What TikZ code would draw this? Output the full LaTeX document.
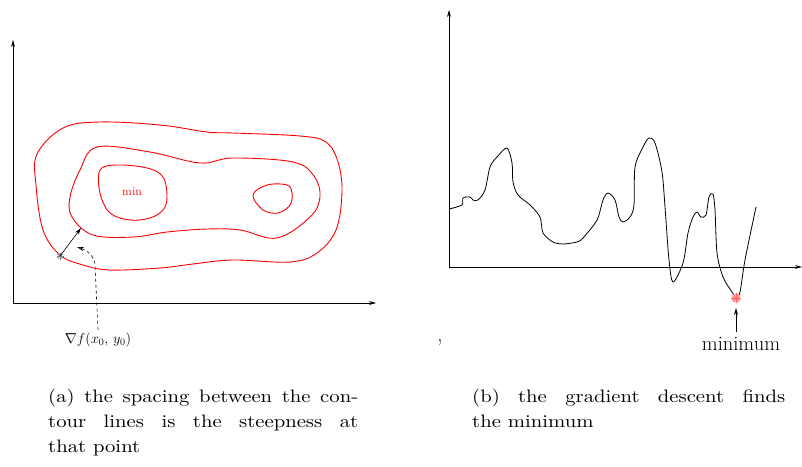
\documentclass[tikz,border=0pt]{standalone}
\usepackage{amsmath}
\usepackage{amssymb}
\usepackage{fontspec}
\newfontfamily\capfont{lmroman10-regular.otf}[FakeStretch=1.15]
\usetikzlibrary{positioning, arrows.meta}

\begin{document}
\begin{tikzpicture}[
    x=1pt, y=-1pt,
    >={Stealth[length=7pt, width=4pt]},
    axis/.style={draw, line width=0.8pt, ->},
    contour/.style={draw=red, line width=0.9pt, smooth cycle, tension=0.6},
    landscape/.style={draw, line width=0.8pt, smooth, tension=0.5},
    caption/.style={align=left, anchor=north west, inner sep=0pt,
        font=\capfont\fontsize{18}{25}\selectfont},
    tag/.style={inner sep=0pt}
]
\useasboundingbox (0,0) rectangle (802,466);

% (a) contour plot
\coordinate (oa) at (13,303);
\coordinate (ya) at (13,40);
\coordinate (xa) at (376,303);
\draw[axis] (oa) -- (ya);
\draw[axis] (oa) -- (xa);

% contour lines
\draw[contour] plot coordinates {(37,154) (63,128) (100,122) (160,125) (207,132)
    (233,133) (300,136) (326,142) (338,162) (342,192) (336,230) (317,253) (290,262)
    (233,260) (193,264) (160,268) (110,270) (83,265) (60,255) (43,230) (36,185)};
\draw[contour] plot coordinates {(97,147) (150,152) (200,163) (233,158) (293,162)
    (314,176) (320,197) (310,217) (277,238) (240,230) (207,229) (167,232)
    (133,237) (93,235) (72,217) (70,197) (80,170)};
\draw[contour] plot coordinates {(100,170) (117,165) (147,168) (163,177) (167,197)
    (163,210) (150,218) (130,220) (110,213) (100,193)};
\draw[contour] plot coordinates {(253,195) (267,185) (287,185) (292,193) (290,205)
    (278,213) (263,210)};
\node[tag, text=red, font=\fontsize{12}{14}\selectfont] (minlabel) at (132,192) {min};

% point on the outer line and its gradient
\node[tag] (pt) at (60,256) {};
\foreach \a in {0,30,...,330}
    \draw[gray, line width=0.5pt] (pt.center) -- ++(\a:3.5);
\coordinate (gradtip) at (81,228);
\draw[->, line width=0.6pt] (pt.center) -- (gradtip);
\node[tag, font=\fontsize{14}{16}\selectfont] (nabla) at (98,340) {$\nabla f(x_0,\, y_0)$};
\coordinate (bend) at (95,265);
\coordinate (hint) at (77,247);
\draw[dashed, line width=0.6pt, -{Stealth[open, length=7pt, width=4pt]}]
    ([yshift=3pt]nabla.north) -- (bend) .. controls (95,256) and (86,250) .. (hint);

% (b) one dimensional landscape
\coordinate (ob) at (449,267);
\coordinate (yb) at (449,10);
\coordinate (xb) at (802,267);
\draw[axis] (ob) -- (yb);
\draw[axis] (ob) -- (xb);

\draw[landscape] plot coordinates {(449,209) (462,205) (463,198) (470,197) (473,200)
    (478,200) (485,190) (490,167) (497,157) (507,148) (512,163) (513,182)
    (518,195) (530,205) (540,217) (543,233) (553,242) (563,244) (577,242)
    (583,238) (597,220) (603,200) (608,193) (615,200) (619,217) (623,222)
    (630,217) (634,205) (635,167) (643,147) (649,138) (655,143) (662,172)
    (665,207) (669,260) (673,282) (683,263) (688,233) (693,217) (697,212)
    (701,217) (706,215) (709,197) (713,194) (715,210) (717,253) (723,277)
    (732,292) (736,297) (740,292) (745,260) (756,207)};

% the minimum
\node[tag] (low) at (736,298) {};
\fill[red!30] (low.center) circle (4.5);
\foreach \a in {0,30,...,330}
    \draw[red!60, line width=0.4pt] (low.center) -- ++(\a:5);
\node[tag, font=\fontsize{20.5}{22}\selectfont] (lowlabel) at (741,344) {minimum};
\draw[->, line width=0.6pt] (lowlabel.north -| low) ++(0,-5) -- ([yshift=-10pt]low.center);

\node[tag, font=\fontsize{21}{25}\selectfont] (comma) at (440,343) {,};

% captions
\node[caption] (capa) at (48,388.5) {%
    \makebox[310pt][s]{(a) the spacing between the con-}\\
    \makebox[310pt][s]{tour lines is the steepness at}\\
    that point};
\node[caption] (capb) at (472,388.5) {%
    \makebox[313pt][s]{(b) the gradient descent finds}\\
    the minimum};
\end{tikzpicture}
\end{document}
